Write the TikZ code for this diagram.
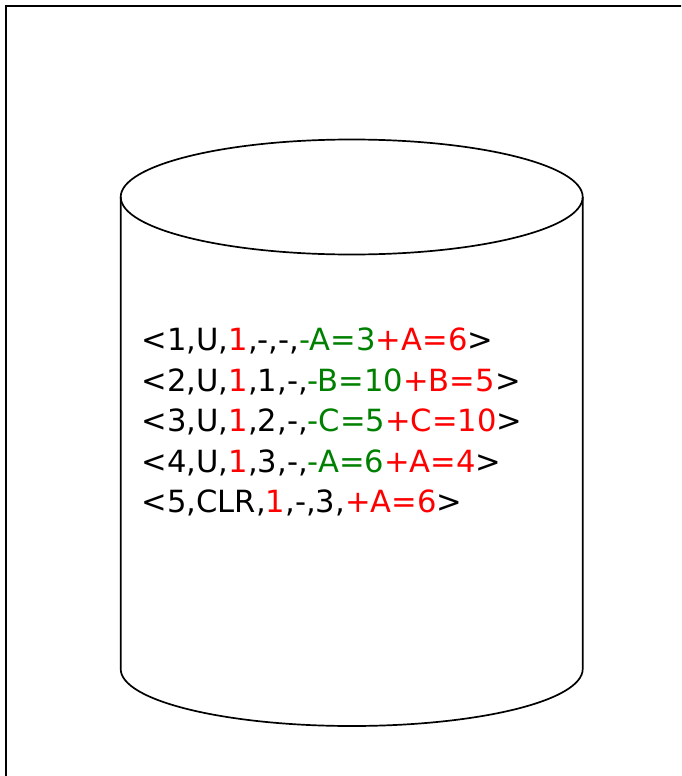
\documentclass[tikz,border=0pt]{standalone}
\usepackage{fontspec}
\setmainfont{DejaVu Sans}
\definecolor{tgreen}{RGB}{0,128,0}
\definecolor{tred}{RGB}{255,0,0}
\begin{document}
\begin{tikzpicture}[x=1pt,y=-1pt,
  shape line/.style={line width=1.7pt,black},
  logline/.style={anchor=base west,inner sep=0pt,font=\fontsize{30.6}{36}\selectfont}]
\useasboundingbox (0,0) rectangle (681,776);
\begin{scope}
\clip (0,0) rectangle (681,776);
\draw[line width=1.6pt] (6,6) rectangle (700,800);
\end{scope}
% cylinder
\coordinate (tc) at (351.7,197);
\coordinate (bc) at (351.7,669);
\draw[shape line] (tc) ellipse [x radius=231, y radius=57.5];
\draw[shape line] (120.7,197) -- (120.7,669) arc[start angle=180,end angle=0,x radius=231,y radius=57] -- (582.7,197);
% log records
\node[logline] (l1) at (141.5,350.5) {<1,U,\textcolor{tred}{1},-,-,\textcolor{tgreen}{-A=3}\textcolor{tred}{+A=6}>};
\node[logline] (l2) at (141.5,391) {<2,U,\textcolor{tred}{1},1,-,\textcolor{tgreen}{-B=10}\textcolor{tred}{+B=5}>};
\node[logline] (l3) at (141.5,431.5) {<3,U,\textcolor{tred}{1},2,-,\textcolor{tgreen}{-C=5}\textcolor{tred}{+C=10}>};
\node[logline] (l4) at (141.5,472) {<4,U,\textcolor{tred}{1},3,-,\textcolor{tgreen}{-A=6}\textcolor{tred}{+A=4}>};
\node[logline] (l5) at (141.5,512.5) {<5,CLR,\textcolor{tred}{1},-,3,\textcolor{tred}{+A=6}>};
\end{tikzpicture}
\end{document}
